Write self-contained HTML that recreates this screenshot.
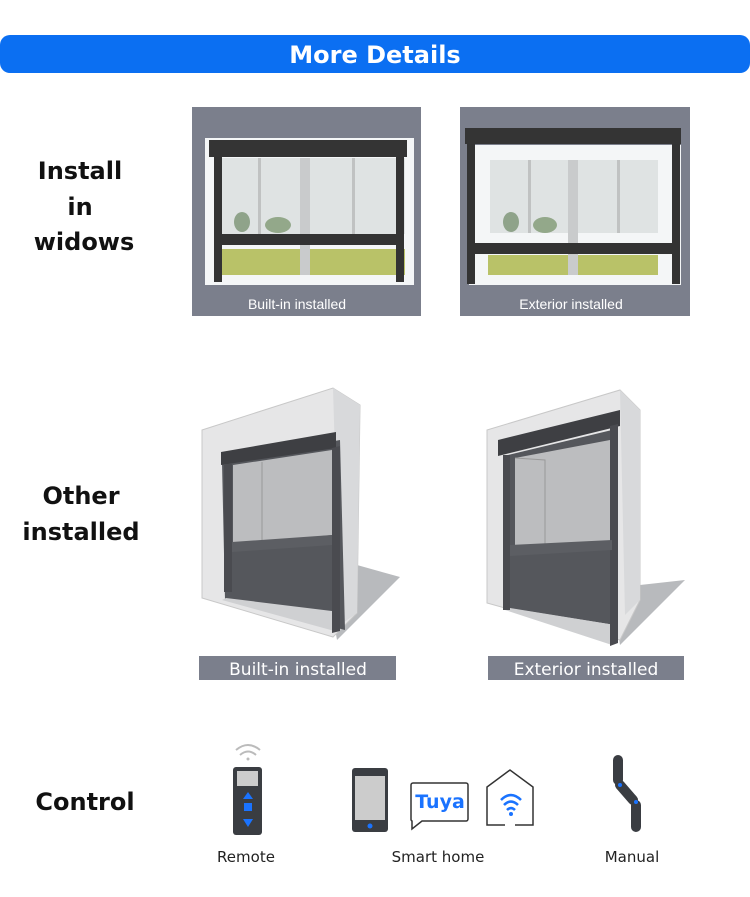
<!DOCTYPE html>
<html><head><meta charset="utf-8"><style>
body{margin:0;background:#fff;width:750px;height:897px;overflow:hidden}
svg{display:block}
</style></head><body>
<svg width="750" height="897" viewBox="0 0 750 897" xmlns="http://www.w3.org/2000/svg" font-family="Liberation Sans, sans-serif">
<rect x="0" y="35" width="750" height="38" rx="10" fill="#0b6ff2"/>
<text x="375" y="63" text-anchor="middle" font-size="24" font-weight="bold" fill="#fff" font-family="DejaVu Sans, sans-serif">More Details</text>

<g font-family="DejaVu Sans, sans-serif" font-weight="bold" font-size="24" fill="#111" text-anchor="middle">
<text x="80" y="179">Install</text><text x="80" y="215">in</text><text x="84" y="250">widows</text>
<text x="81" y="504">Other</text><text x="81" y="540">installed</text>
<text x="85" y="810">Control</text>
</g>

<!-- panel 1 -->
<rect x="192" y="107" width="229" height="209" fill="#7b7f8c"/>
<rect x="205" y="138" width="209" height="147" fill="#f4f6f7"/>
<rect x="220" y="158" width="185" height="76" fill="#dfe3e3"/>
<rect x="220" y="249" width="185" height="26" fill="#b9c268"/>
<rect x="300" y="158" width="10" height="117" fill="#c9cbcc"/>
<rect x="258" y="158" width="3" height="76" fill="#c0c2c2"/><rect x="352" y="158" width="3" height="76" fill="#c0c2c2"/>
<ellipse cx="242" cy="222" rx="8" ry="10" fill="#8fa38a"/><ellipse cx="278" cy="225" rx="13" ry="8" fill="#93a88a"/>
<rect x="209" y="140" width="198" height="17" fill="#343434"/>
<rect x="214" y="157" width="8" height="125" fill="#333"/><rect x="396" y="157" width="8" height="125" fill="#333"/>
<rect x="222" y="234" width="174" height="11" fill="#333"/>
<text x="297" y="309" text-anchor="middle" font-size="14" fill="#fff">Built-in installed</text>

<!-- panel 2 -->
<rect x="460" y="107" width="230" height="209" fill="#7b7f8c"/>
<rect x="469" y="145" width="212" height="140" fill="#f4f6f7"/>
<rect x="490" y="160" width="168" height="73" fill="#dfe3e3"/>
<rect x="488" y="255" width="170" height="20" fill="#b9c268"/>
<rect x="568" y="160" width="10" height="115" fill="#c9cbcc"/>
<rect x="528" y="160" width="3" height="73" fill="#c0c2c2"/><rect x="617" y="160" width="3" height="73" fill="#c0c2c2"/>
<ellipse cx="511" cy="222" rx="8" ry="10" fill="#8fa38a"/><ellipse cx="545" cy="225" rx="12" ry="8" fill="#93a88a"/>
<rect x="465" y="128" width="216" height="16" fill="#343434"/>
<rect x="467" y="144" width="8" height="140" fill="#333"/><rect x="672" y="144" width="8" height="140" fill="#333"/>
<rect x="475" y="243" width="197" height="11" fill="#333"/>
<text x="571" y="309" text-anchor="middle" font-size="14" fill="#fff">Exterior installed</text>

<!-- 3D left -->
<polygon points="357,565 400,577 337,640 330,600" fill="#b8babd"/>
<polygon points="202,430 333,388 360,405 357,613 333,637 202,598" fill="#e6e6e7" stroke="#c8c8c8"/>
<polygon points="333,388 360,405 357,613 340,625" fill="#d8d9db"/>
<polygon points="222,462 340,440 345,630 225,600" fill="#55575c"/>
<polygon points="226,598 340,612 338,632 222,600" fill="#cfd0d2"/>
<polygon points="233,465 332,450 332,535 233,545" fill="#bcbdbf"/>
<line x1="262" y1="462" x2="262" y2="545" stroke="#999"/>
<polygon points="221,452 336,432 336,448 221,465" fill="#3e3f43"/>
<rect x="224" y="464" width="8" height="128" fill="#4a4b50"/>
<polygon points="332,448 340,446 340,631 332,633" fill="#4a4b50"/>
<polygon points="232,542 332,535 332,545 232,552" fill="#5c5e63"/>

<!-- 3D right -->
<polygon points="640,585 685,580 620,645 615,610" fill="#b8babd"/>
<polygon points="487,430 620,390 640,410 640,600 620,640 487,603" fill="#e6e6e7" stroke="#c8c8c8"/>
<polygon points="620,390 640,410 640,600 625,615" fill="#d8d9db"/>
<polygon points="508,455 612,430 615,625 508,608" fill="#55575c"/>
<polygon points="510,608 615,625 612,645 505,610" fill="#cfd0d2"/>
<polygon points="515,458 610,440 610,545 515,548" fill="#bcbdbf"/>
<polyline points="515,458 545,460 545,548" fill="none" stroke="#999"/>
<polygon points="498,440 620,410 620,426 498,456" fill="#3e3f43"/>
<rect x="503" y="455" width="7" height="155" fill="#4a4b50"/>
<polygon points="610,426 618,424 618,643 610,646" fill="#4a4b50"/>
<polygon points="510,545 612,540 612,550 510,556" fill="#5c5e63"/>

<rect x="199" y="656" width="197" height="24" fill="#7b7f8c"/>
<text x="298" y="675" text-anchor="middle" font-size="17" fill="#fff" font-family="DejaVu Sans, sans-serif">Built-in installed</text>
<rect x="488" y="656" width="196" height="24" fill="#7b7f8c"/>
<text x="586" y="675" text-anchor="middle" font-size="17" fill="#fff" font-family="DejaVu Sans, sans-serif">Exterior installed</text>

<!-- remote -->
<g fill="none" stroke="#bbb" stroke-width="2"><path d="M236,750 Q248,740 260,750"/><path d="M240,755 Q248,748 256,755"/></g>
<circle cx="248" cy="759" r="1.5" fill="#bbb"/>
<rect x="233" y="767" width="29" height="68" rx="3" fill="#3a3d42"/>
<rect x="237" y="771" width="21" height="15" fill="#ccc"/>
<polygon points="248,792 243,799 253,799" fill="#1a73ff"/>
<rect x="244" y="803" width="8" height="8" fill="#1a73ff"/>
<polygon points="248,827 243,819 253,819" fill="#1a73ff"/>
<!-- phone -->
<rect x="352" y="768" width="36" height="64" rx="3" fill="#3a3d42"/>
<rect x="355" y="776" width="30" height="44" fill="#ccc"/>
<circle cx="370" cy="826" r="2.5" fill="#1a73ff"/>
<!-- tuya -->
<path d="M413,783 h53 a2,2 0 0 1 2,2 v34 a2,2 0 0 1 -2,2 h-44 l-10,8 v-8 a2,2 0 0 1 -1,-2 v-34 a2,2 0 0 1 2,-2z" fill="#fff" stroke="#333" stroke-width="1.5"/>
<text x="440" y="808" text-anchor="middle" font-size="19" font-weight="bold" fill="#1a73ff" font-family="DejaVu Sans, sans-serif">Tuya</text>
<!-- house -->
<path d="M515,825 h18 v-38 l-23,-17 l-23,17 v38 h18" fill="none" stroke="#333" stroke-width="1.5"/>
<g fill="none" stroke="#1a73ff" stroke-width="2.5"><path d="M501,800 Q511,790 521,800"/><path d="M504,805 Q511,798 518,805"/><path d="M507,810 Q511,806 515,810"/></g>
<circle cx="511" cy="814" r="2" fill="#1a73ff"/>
<!-- manual -->
<g stroke="#3a3d42" stroke-width="10" stroke-linecap="round"><line x1="618" y1="760" x2="618" y2="780"/><line x1="620" y1="785" x2="633" y2="800"/><line x1="636" y1="805" x2="636" y2="827"/></g>
<circle cx="620" cy="785" r="2" fill="#1a73ff"/><circle cx="636" cy="802" r="2" fill="#1a73ff"/>

<g font-size="15" fill="#222" text-anchor="middle" font-family="DejaVu Sans, sans-serif">
<text x="246" y="862">Remote</text><text x="438" y="862">Smart home</text><text x="632" y="862">Manual</text>
</g>
</svg>
</body></html>
